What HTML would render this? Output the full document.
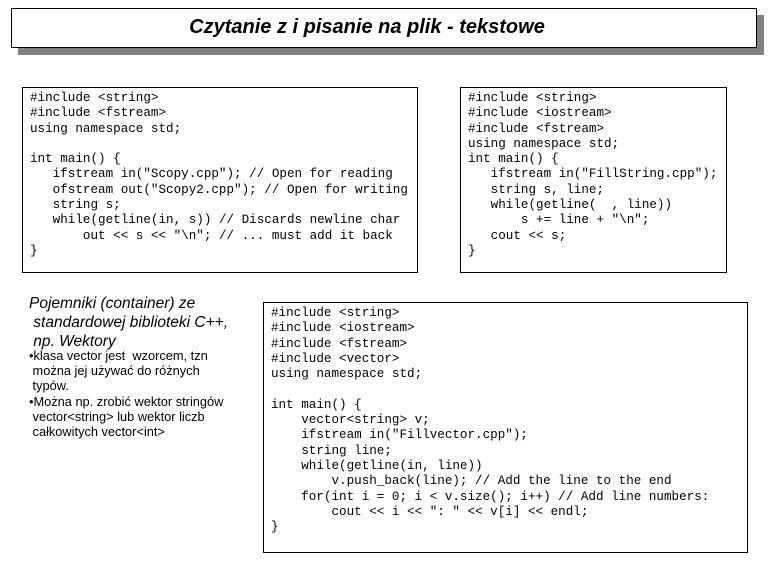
<!DOCTYPE html>
<html><head><meta charset="utf-8"><style>
body{margin:0;width:768px;height:576px;background:#fff;position:relative;overflow:hidden;font-family:"Liberation Sans",sans-serif}
.sh{position:absolute;background:#808080}
.box{position:absolute;background:#fff;border:1px solid #000;box-sizing:border-box}
pre{margin:0;font-family:"Liberation Mono",monospace;font-size:12.6px;line-height:15.3px;position:absolute;color:#000}
.t{position:absolute;left:0;width:100%;text-align:center;top:7px;font-style:italic;font-weight:bold;font-size:20px;padding-right:34px;box-sizing:border-box}
</style></head><body>
<div class="sh" style="left:18px;top:15px;width:746px;height:40px"></div>
<div class="box" style="left:11px;top:8px;width:746px;height:40px"><div class="t">Czytanie z i pisanie na plik - tekstowe</div></div>

<div class="box" style="left:22px;top:87px;width:396px;height:186px"></div>
<pre style="left:30px;top:91px">#include &lt;string&gt;
#include &lt;fstream&gt;
using namespace std;

int main() {
   ifstream in("Scopy.cpp"); // Open for reading
   ofstream out("Scopy2.cpp"); // Open for writing
   string s;
   while(getline(in, s)) // Discards newline char
       out &lt;&lt; s &lt;&lt; "\n"; // ... must add it back
}</pre>

<div class="box" style="left:460px;top:87px;width:267px;height:186px"></div>
<pre style="left:468px;top:91px">#include &lt;string&gt;
#include &lt;iostream&gt;
#include &lt;fstream&gt;
using namespace std;
int main() {
   ifstream in("FillString.cpp");
   string s, line;
   while(getline(  , line))
       s += line + "\n";
   cout &lt;&lt; s;
}</pre>

<div style="position:absolute;left:29px;top:294px;font-size:15.5px;font-style:italic;line-height:19px;white-space:nowrap">Pojemniki (container) ze<br>&nbsp;standardowej biblioteki C++,<br>&nbsp;np. Wektory</div>
<div style="position:absolute;left:29px;top:348px;font-size:12.8px;line-height:15.2px;white-space:nowrap">•klasa vector jest&nbsp; wzorcem, tzn<br>&nbsp;można jej używać do różnych<br>&nbsp;typów.<br>•Można np. zrobić wektor stringów<br>&nbsp;vector&lt;string&gt; lub wektor liczb<br>&nbsp;całkowitych vector&lt;int&gt;</div>

<div class="box" style="left:263px;top:302px;width:485px;height:251px"></div>
<pre style="left:271px;top:306px">#include &lt;string&gt;
#include &lt;iostream&gt;
#include &lt;fstream&gt;
#include &lt;vector&gt;
using namespace std;

int main() {
    vector&lt;string&gt; v;
    ifstream in("Fillvector.cpp");
    string line;
    while(getline(in, line))
        v.push_back(line); // Add the line to the end
    for(int i = 0; i &lt; v.size(); i++) // Add line numbers:
        cout &lt;&lt; i &lt;&lt; ": " &lt;&lt; v[i] &lt;&lt; endl;
}</pre>
</body></html>
